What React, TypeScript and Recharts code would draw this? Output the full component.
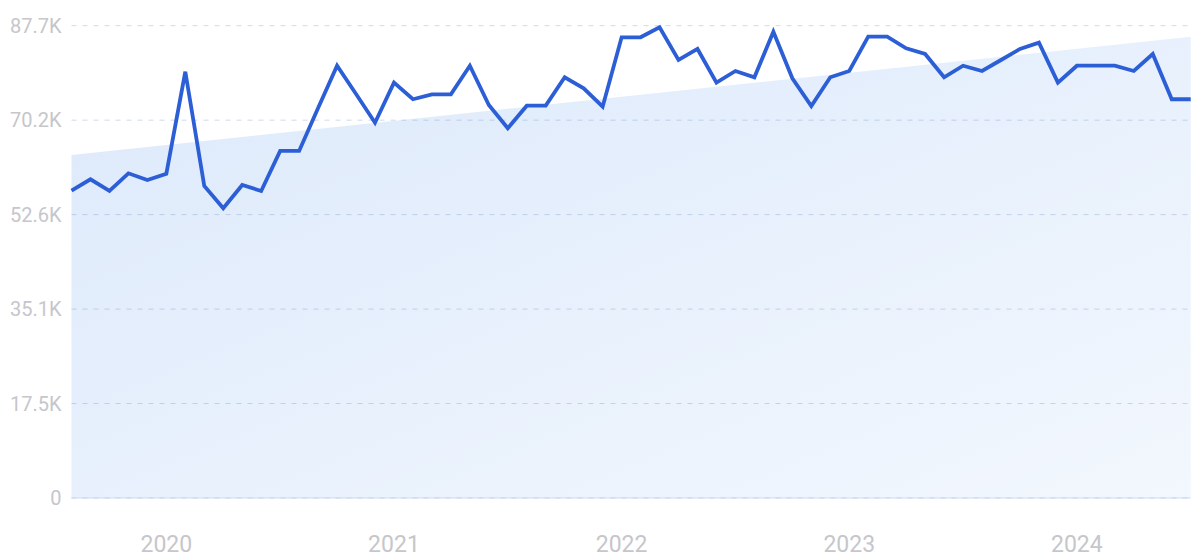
import { ComposedChart, Line, Area, XAxis, YAxis, CartesianGrid } from "recharts";

// monthly visits, Aug 2019 .. Jul 2024
const visits = [
  57060, 59180, 57010, 60290, 59050, 60220, 79160, 57940, 53790, 58120,
  57010, 64440, 64440, 72420, 80270, 75020, 69690, 77120, 74040, 74960,
  74960, 80270, 72980, 68650, 72850, 72850, 78120, 76080, 72660, 85550,
  85550, 87400, 81330, 83380, 77120, 79290, 78120, 86590, 77930, 72790,
  78120, 79290, 85660, 85660, 83500, 82450, 78120, 80270, 79290, 81330,
  83380, 84550, 77120, 80270, 80270, 80270, 79290, 82450, 74040, 74040,
];

// trend line end points (first and last month)
const trendStart = 63700;
const trendEnd = 85660;

const yTicks = [0, 17540, 35080, 52620, 70160, 87700];
const yearTicks = ["2020-01", "2021-01", "2022-01", "2023-01", "2024-01"];

const months: string[] = [];
for (let i = 0; i < visits.length; i++) {
  const m = 7 + i; // Aug 2019 = month index 7
  const y = 2019 + Math.floor(m / 12);
  months.push(`${y}-${String((m % 12) + 1).padStart(2, "0")}`);
}

const data = months.map((month, i) => ({
  month,
  visits: visits[i],
  trend: i === 0 ? trendStart : i === visits.length - 1 ? trendEnd : null,
}));

function formatK(v: number): string {
  return v === 0 ? "0" : `${(v / 1000).toFixed(1)}K`;
}

export default function App() {
  return (
    <div style={{ position: "absolute", left: 0, top: 0, background: "#fff" }}>
      <ComposedChart
        width={1200}
        height={559}
        data={data}
        margin={{ top: 25.7, right: 9.3, left: 0, bottom: 0 }}
      >
        <defs>
          <linearGradient id="trendFill" x1="0" y1="0" x2="1" y2="1">
            <stop offset="0%" stopColor="#5091eb" stopOpacity={0.2} />
            <stop offset="100%" stopColor="#5091eb" stopOpacity={0.07} />
          </linearGradient>
        </defs>
        <CartesianGrid vertical={false} strokeDasharray="5 6" stroke="#cfd9ea" />
        <XAxis
          dataKey="month"
          ticks={yearTicks}
          tickFormatter={(v: string) => v.slice(0, 4)}
          interval={0}
          height={61}
          tickLine={false}
          axisLine={{ stroke: "#cbdaf3" }}
          tickMargin={32}
          tick={{ fontSize: 23, fill: "#c6c6cb", fontFamily: "Roboto, sans-serif" }}
        />
        <YAxis
          width={71.5}
          domain={[0, 87700]}
          ticks={yTicks}
          tickFormatter={formatK}
          axisLine={false}
          tickLine={false}
          tickMargin={4}
          tick={{ fontSize: 20, fill: "#c6c6cb", fontFamily: "Roboto, sans-serif" }}
        />
        <Area
          type="linear"
          dataKey="trend"
          connectNulls
          stroke="none"
          fill="url(#trendFill)"
          fillOpacity={1}
          isAnimationActive={false}
        />
        <Line
          type="linear"
          dataKey="visits"
          stroke="#2c5ed6"
          strokeWidth={3.8}
          dot={false}
          isAnimationActive={false}
        />
      </ComposedChart>
    </div>
  );
}
